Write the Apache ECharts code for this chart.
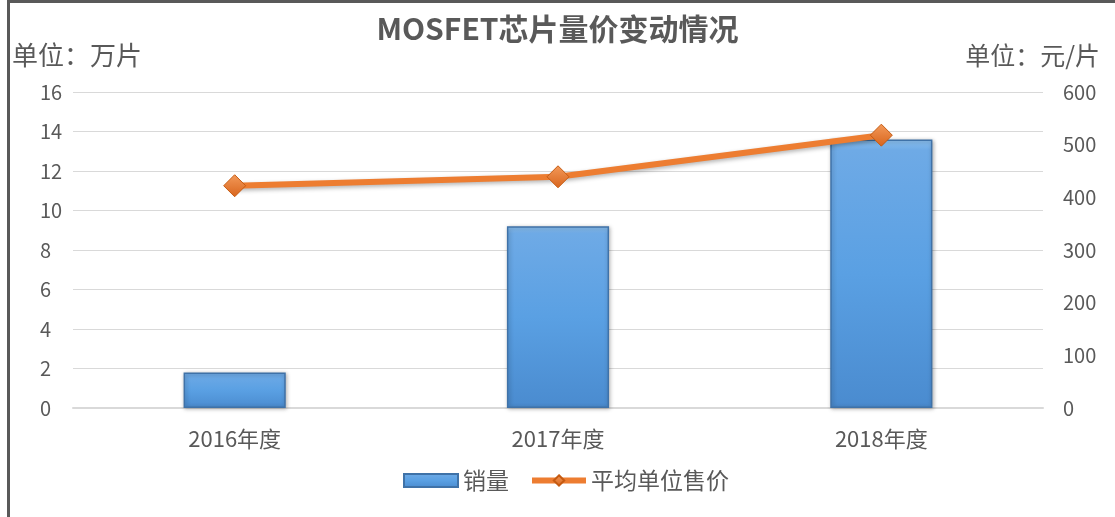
<!DOCTYPE html>
<html>
<head>
<meta charset="utf-8">
<script src="https://cdn.jsdelivr.net/npm/echarts@6/dist/echarts.min.js"></script>
<style>
  html, body { margin: 0; padding: 0; background: #fff; }
  #box { width: 1115px; height: 517px; }
  .frame {
    position: absolute; left: 7px; top: 0; width: 1108px; height: 517px;
    border-left: 3px solid #595959; border-top: 3px solid #595959;
    box-sizing: border-box; pointer-events: none;
  }
</style>
</head>
<body>
<div id="box"></div>
<div class="frame"></div>
<script>
// 数据
const categories = ['2016年度', '2017年度', '2018年度'];
const sales = [1.8, 9.2, 13.6];       // 销量 (万片)
const avgPrice = [422, 439, 518];     // 平均单位售价 (元/片)

const font = '"Noto Sans CJK SC", "Noto Sans", sans-serif';
const grey = '#595959';

let myecharts = echarts.init(document.getElementById('box'));
let options = {
  textStyle: { fontFamily: font },
  title: {
    text: 'MOSFET芯片量价变动情况',
    left: 'center',
    top: 9,
    textStyle: { fontSize: 30, fontWeight: 'bold', color: grey, fontFamily: font }
  },
  legend: {
    bottom: 20,
    left: 398,
    itemGap: 20,
    itemWidth: 54,
    itemHeight: 13,
    textStyle: { fontSize: 23, color: grey, fontFamily: font },
    data: [
      { name: '销量', icon: 'rect' },
      { name: '平均单位售价', lineStyle: { width: 6 } }
    ]
  },
  grid: { left: 73, right: 72, top: 92, bottom: 109 },
  xAxis: {
    type: 'category',
    data: categories,
    axisTick: { show: false },
    axisLine: { lineStyle: { color: '#d9d9d9', width: 2 } },
    axisLabel: { fontSize: 22, color: grey, margin: 20, fontFamily: font }
  },
  yAxis: [
    {
      type: 'value',
      min: 0, max: 16, interval: 2,
      name: '单位：万片',
      nameLocation: 'end',
      nameGap: 24,
      nameTextStyle: { fontSize: 26, color: grey, align: 'left', padding: [0, 0, 0, -61], fontFamily: font },
      axisLabel: { fontSize: 20, color: grey, align: 'left', margin: 33, fontFamily: font },
      splitLine: { lineStyle: { color: '#d9d9d9', width: 1 } },
      axisLine: { show: false },
      axisTick: { show: false }
    },
    {
      type: 'value',
      min: 0, max: 600, interval: 100,
      name: '单位：元/片',
      nameLocation: 'end',
      nameGap: 24,
      nameTextStyle: { fontSize: 25, color: grey, align: 'right', padding: [0, -57, 0, 0], fontFamily: font },
      axisLabel: { fontSize: 20, color: grey, align: 'left', margin: 20, fontFamily: font },
      splitLine: { show: false },
      axisLine: { show: false },
      axisTick: { show: false }
    }
  ],
  series: [
    {
      name: '销量',
      type: 'bar',
      yAxisIndex: 0,
      data: sales,
      barWidth: '31.6%',
      itemStyle: {
        color: {
          type: 'linear', x: 0, y: 0, x2: 0, y2: 1,
          colorStops: [
            { offset: 0, color: '#8cc1f0' },
            { offset: 0.04, color: '#6eaae6' },
            { offset: 0.5, color: '#5aa0e3' },
            { offset: 1, color: '#4a8bcf' }
          ]
        },
        borderColor: '#3f72a8',
        borderWidth: 1.5,
        shadowColor: 'rgba(0,0,0,0.3)',
        shadowBlur: 4,
        shadowOffsetX: 1,
        shadowOffsetY: 1
      }
    },
    {
      name: '平均单位售价',
      type: 'line',
      yAxisIndex: 1,
      data: avgPrice,
      symbol: 'diamond',
      symbolSize: 22,
      lineStyle: {
        color: '#ed7d31', width: 6,
        shadowColor: 'rgba(0,0,0,0.3)', shadowBlur: 4, shadowOffsetY: 2
      },
      itemStyle: {
        color: {
          type: 'linear', x: 0, y: 0, x2: 0, y2: 1,
          colorStops: [
            { offset: 0, color: '#f39a5a' },
            { offset: 1, color: '#d8641c' }
          ]
        },
        borderColor: '#c55a11',
        borderWidth: 1
      },
      z: 5
    }
  ]
};
myecharts.setOption(options);
window.onresize = function () {
  myecharts.resize();
};
</script>
</body>
</html>
